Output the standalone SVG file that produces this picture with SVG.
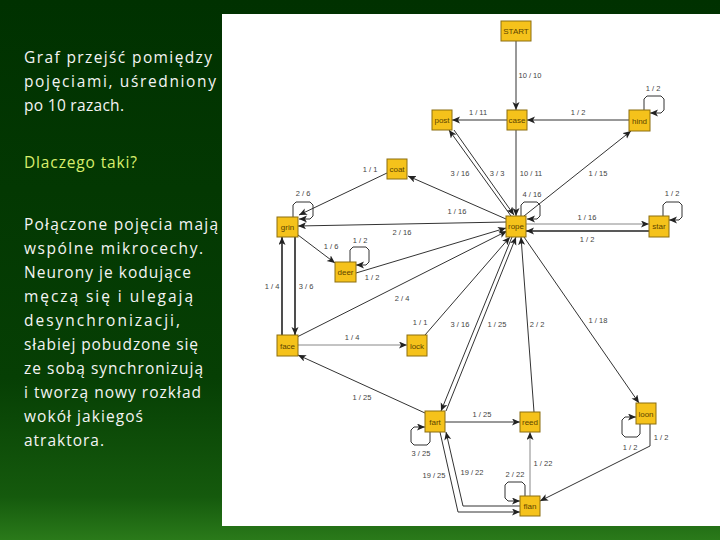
<svg xmlns="http://www.w3.org/2000/svg" width="720" height="540" viewBox="0 0 720 540">
<defs>
<linearGradient id="bg" x1="0" y1="0" x2="0" y2="1">
<stop offset="0" stop-color="#003100"/>
<stop offset="0.7" stop-color="#063f04"/>
<stop offset="0.92" stop-color="#155a0d"/>
<stop offset="1" stop-color="#2a7a1a"/>
</linearGradient>
<marker id="ah" markerUnits="userSpaceOnUse" markerWidth="10" markerHeight="8" refX="8" refY="3.5" orient="auto">
<path d="M0,0 L8,3.5 L0,7 L2,3.5 z" fill="#222"/>
</marker>
<style>
.side{font-family:"Open Sans","Liberation Sans",sans-serif;font-size:15.5px;fill:#f4f4f4}
.node rect{fill:#f5c21b;stroke:#8c6e10;stroke-width:1}
.node text{font-family:"Liberation Sans",Arial,sans-serif;font-size:8px;fill:#5c4400;text-anchor:middle}
.e{fill:none;stroke:#333;stroke-width:1;marker-end:url(#ah)}
.lt{stroke:#888}
.bd{stroke:#222;stroke-width:1.6}
.lbl{font-family:"Liberation Sans",Arial,sans-serif;font-size:7.5px;fill:#444;text-anchor:middle}
</style>
</defs>
<rect width="720" height="540" fill="url(#bg)"/>
<rect x="222" y="14" width="498" height="512" fill="#ffffff"/>

<g id="sidetext" class="side">
<text x="24" y="63" textLength="188" lengthAdjust="spacing">Graf przejść pomiędzy</text>
<text x="24" y="87" textLength="192" lengthAdjust="spacing">pojęciami, uśredniony</text>
<text x="24" y="111" textLength="100" lengthAdjust="spacing">po 10 razach.</text>
<text x="24" y="168" textLength="113" lengthAdjust="spacing" style="fill:#d8ee6c">Dlaczego taki?</text>
<text x="24" y="230" textLength="194" lengthAdjust="spacing">Połączone pojęcia mają</text>
<text x="24" y="254" textLength="179" lengthAdjust="spacing">wspólne mikrocechy.</text>
<text x="24" y="278" textLength="167" lengthAdjust="spacing">Neurony je kodujące</text>
<text x="24" y="302" textLength="169" lengthAdjust="spacing">męczą się i ulegają</text>
<text x="24" y="326" textLength="156" lengthAdjust="spacing">desynchronizacji,</text>
<text x="24" y="350" textLength="174" lengthAdjust="spacing">słabiej pobudzone się</text>
<text x="24" y="374" textLength="179" lengthAdjust="spacing">ze sobą synchronizują</text>
<text x="24" y="398" textLength="177" lengthAdjust="spacing">i tworzą nowy rozkład</text>
<text x="24" y="422" textLength="119" lengthAdjust="spacing">wokół jakiegoś</text>
<text x="24" y="446" textLength="80" lengthAdjust="spacing">atraktora.</text>
</g>

<g id="connectors">
<path class="e" d="M516 41 L516 110"/>
<path class="e" d="M507 120 L452 120"/>
<path class="e" d="M629 120 L527 120"/>
<path class="e" d="M644 110 V99 L647 96 H661 L664 99 V110 L661 113 H650"/>
<path class="e" d="M516 130 L516 216"/>
<path class="e" d="M511 216 L449 130"/>
<path class="e" d="M454 130 L514 215"/>
<path class="e" d="M521 216 V205 L524 202 H537 L540 205 V216 L537 219 H527"/>
<path class="e" d="M524 216 L631 131"/>
<path class="e" d="M506 219 L408 176"/>
<path class="e" d="M387 173 L299 215"/>
<path class="e" d="M293 217 V205 L296 202 H310 L313 205 V216 L310 219 H299"/>
<path class="e" d="M506 222 L298 226"/>
<path class="e" d="M298 235 L335 263"/>
<path class="e" d="M350 262 V250 L353 247 H366 L369 250 V262 L366 265 H356"/>
<path class="e" d="M356 273 L506 228"/>
<path class="e bd" d="M295 237 L295 335"/>
<path class="e bd" d="M282 335 L282 237"/>
<path class="e" d="M297 337 L507 231"/>
<path class="e lt" d="M298 345 L407 345"/>
<path class="e" d="M425 335 L510 237"/>
<path class="e" d="M512 237 L441 411"/>
<path class="e" d="M446 411 L516 237"/>
<path class="e" d="M534 412 L521 237"/>
<path class="e" d="M524 237 L639 403"/>
<path class="e lt" d="M526 224 L649 224"/>
<path class="e bd" d="M649 231 L526 231"/>
<path class="e" d="M663 216 V205 L666 202 H679 L682 205 V217 L679 220 H669"/>
<path class="e" d="M425 413 L298 355"/>
<path class="e" d="M445 422 L520 422"/>
<path class="e" d="M430 432 V442 L427 445 H414 L411 442 V430 L414 427 H425"/>
<path class="e" d="M440 432 L458 512 H520"/>
<path class="e" d="M520 506 H463 L446 432"/>
<path class="e" d="M525 496 V485 L522 482 H508 L505 485 V498 L508 501 H520"/>
<path class="e lt" d="M530 496 L530 432"/>
<path class="e" d="M650 424 V446 L540 501"/>
<path class="e" d="M640 424 V434 L637 437 H625 L622 434 V420 L625 417 H636"/>
</g>

<g id="labels" class="lbl">
<text x="530" y="78">10 / 10</text>
<text x="478" y="115">1 / 11</text>
<text x="578" y="115">1 / 2</text>
<text x="653" y="91">1 / 2</text>
<text x="370" y="172">1 / 1</text>
<text x="303" y="196">2 / 6</text>
<text x="460" y="176">3 / 16</text>
<text x="497" y="176">3 / 3</text>
<text x="531" y="176">10 / 11</text>
<text x="598" y="176">1 / 15</text>
<text x="532" y="197">4 / 16</text>
<text x="457" y="214">1 / 16</text>
<text x="587" y="220">1 / 16</text>
<text x="587" y="242">1 / 2</text>
<text x="672" y="196">1 / 2</text>
<text x="402" y="235">2 / 16</text>
<text x="331" y="249">1 / 6</text>
<text x="360" y="243">1 / 2</text>
<text x="372" y="280">1 / 2</text>
<text x="272" y="289">1 / 4</text>
<text x="306" y="289">3 / 6</text>
<text x="402" y="301">2 / 4</text>
<text x="420" y="325">1 / 1</text>
<text x="352" y="340">1 / 4</text>
<text x="460" y="327">3 / 16</text>
<text x="497" y="327">1 / 25</text>
<text x="537" y="327">2 / 2</text>
<text x="598" y="323">1 / 18</text>
<text x="362" y="400">1 / 25</text>
<text x="482" y="417">1 / 25</text>
<text x="421" y="456">3 / 25</text>
<text x="434" y="478">19 / 25</text>
<text x="472" y="475">19 / 22</text>
<text x="515" y="477">2 / 22</text>
<text x="543" y="466">1 / 22</text>
<text x="661" y="440">1 / 2</text>
<text x="630" y="450">1 / 2</text>
</g>

<g id="n-start" class="node"><rect x="501" y="21" width="30" height="20"/><text x="516" y="34">START</text></g>
<g id="n-post" class="node"><rect x="432" y="110" width="20" height="20"/><text x="442" y="123">post</text></g>
<g id="n-case" class="node"><rect x="507" y="110" width="20" height="20"/><text x="517" y="123">case</text></g>
<g id="n-hind" class="node"><rect x="629" y="110" width="21" height="21"/><text x="639.5" y="123.5">hind</text></g>
<g id="n-coat" class="node"><rect x="387" y="159" width="20" height="20"/><text x="397" y="172">coat</text></g>
<g id="n-grin" class="node"><rect x="277" y="217" width="21" height="20"/><text x="287.5" y="230">grin</text></g>
<g id="n-deer" class="node"><rect x="335" y="262" width="21" height="20"/><text x="345.5" y="275">deer</text></g>
<g id="n-rope" class="node"><rect x="506" y="216" width="20" height="21"/><text x="516" y="229">rope</text></g>
<g id="n-star" class="node"><rect x="649" y="216" width="20" height="21"/><text x="659" y="229">star</text></g>
<g id="n-face" class="node"><rect x="277" y="335" width="21" height="21"/><text x="287.5" y="348.5">face</text></g>
<g id="n-lock" class="node"><rect x="407" y="335" width="20" height="21"/><text x="417" y="348.5">lock</text></g>
<g id="n-fart" class="node"><rect x="425" y="411" width="20" height="21"/><text x="435" y="424.5">fart</text></g>
<g id="n-reed" class="node"><rect x="520" y="412" width="20" height="20"/><text x="530" y="425">reed</text></g>
<g id="n-loon" class="node"><rect x="636" y="403" width="20" height="21"/><text x="646" y="416.5">loon</text></g>
<g id="n-flan" class="node"><rect x="520" y="496" width="20" height="20"/><text x="530" y="509">flan</text></g>
</svg>
